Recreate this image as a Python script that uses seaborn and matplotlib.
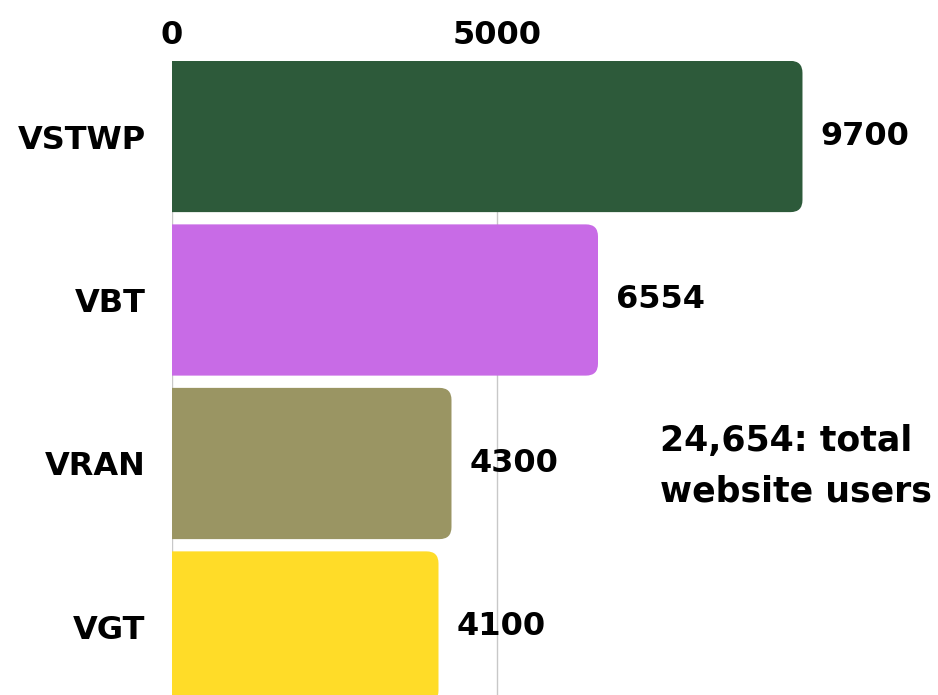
import numpy as np
import pandas as pd
import matplotlib
matplotlib.use('Agg')
import matplotlib.pyplot as plt
from matplotlib.patches import FancyBboxPatch
import seaborn as sns

# data
sites = ['VSTWP', 'VBT', 'VRAN', 'VGT']
users = [9700, 6554, 4300, 4100]
bar_colors = ['#2D5A3A', '#C86BE6', '#9A9563', '#FFDC28']
x_ticks = [0, 5000]
note = '24,654: total\nwebsite users'

sns.set_theme(style='white')
plt.rcParams['font.family'] = ['DejaVu Sans']
plt.rcParams['font.weight'] = 'bold'
plt.rcParams['text.color'] = 'black'
plt.rcParams['xtick.color'] = 'black'
plt.rcParams['ytick.color'] = 'black'

df = pd.DataFrame({'site': sites, 'users': users})

fig = plt.figure(figsize=(9.38, 6.95), dpi=100)
ax = fig.add_axes([172 / 938, 0, 1 - 172 / 938, 1 - 61 / 695])

sns.barplot(data=df, x='users', y='site', hue='site', palette=bar_colors,
            order=sites, hue_order=sites, width=0.925, legend=False, ax=ax,
            zorder=2)

ax.set_xlim(0, 11785)
ax.set_ylim(3.416, -0.4618)

# swap plain bars for right-rounded ones (left corners clipped by the axes)
px_x = 11785 / (938 - 172)
px_y = (3.416 + 0.4618) / 634
r = 12 * px_x
for p, c in zip(list(ax.patches), bar_colors):
    x0, y0, w, h = p.get_x(), p.get_y(), p.get_width(), p.get_height()
    p.remove()
    ax.add_patch(FancyBboxPatch((x0 - 2 * r, y0), w + 2 * r, h,
                                boxstyle=f'round,pad=0,rounding_size={r}',
                                mutation_aspect=px_y / px_x, facecolor=c, edgecolor='none',
                                linewidth=0, zorder=2))

for i, v in enumerate(users):
    ax.annotate(f'{v}', xy=(v, i), xytext=(13, 0), textcoords='offset points',
                ha='left', va='center', fontsize=23, fontweight='bold',
                color='black', zorder=1)

ax.xaxis.tick_top()
ax.set_xticks(x_ticks)
ax.set_xticklabels([str(t) for t in x_ticks], fontsize=23, fontweight='bold')
ax.tick_params(axis='x', length=0, pad=7)
ax.tick_params(axis='y', length=0, pad=19, labelsize=23)
for lbl in ax.get_yticklabels():
    lbl.set_fontweight('bold')
ax.set_xlabel('')
ax.set_ylabel('')
for s in ax.spines.values():
    s.set_visible(False)
ax.grid(axis='x', color='#C8C8C8', linewidth=1)
ax.set_axisbelow(True)

fig.text(660 / 938, 1 - 466 / 695, note, ha='left', va='center', fontsize=25,
         fontweight='bold', linespacing=1.6, color='black')

fig.savefig('out.png', dpi=100)
